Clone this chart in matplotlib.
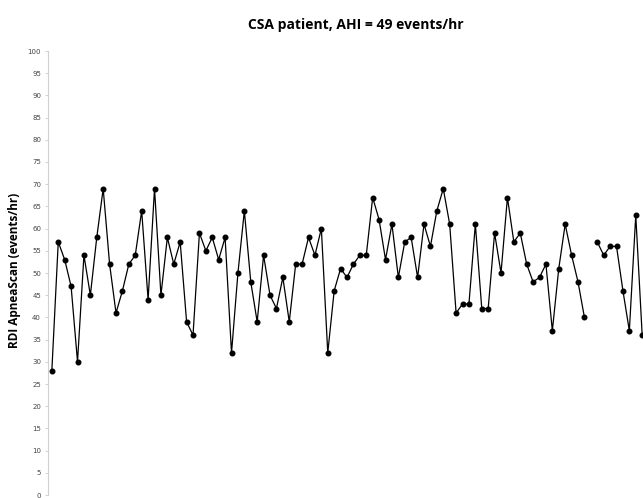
import numpy as np
import matplotlib.pyplot as plt

############################################
### RDI ApneaScan, CSA patient ###
############################################

# nightly RDI values, None = missing night
rdi = [28, 57, 53, 47, 30, 54, 45, 58, 69, 52,
       41, 46, 52, 54, 64, 44, 69, 45, 58, 52,
       57, 39, 36, 59, 55, 58, 53, 58, 32, 50,
       64, 48, 39, 54, 45, 42, 49, 39, 52, 52,
       58, 54, 60, 32, 46, 51, 49, 52, 54, 54,
       67, 62, 53, 61, 49, 57, 58, 49, 61, 56,
       64, 69, 61, 41, 43, 43, 61, 42, 42, 59,
       50, 67, 57, 59, 52, 48, 49, 52, 37, 51,
       61, 54, 48, 40, None, 57, 54, 56, 56, 46,
       37, 63, 36]
yticks = list(range(0, 101, 5))
title = 'CSA patient, AHI = 49 events/hr'
ylabel = 'RDI ApneaScan (events/hr)'

y = np.array([np.nan if v is None else v for v in rdi], dtype=float)
x = np.arange(len(y))

W, H = 643, 498
fig = plt.figure(figsize=(W / 100, H / 100), dpi=100)
# chart is cropped on the right and bottom in the original
ax = fig.add_axes([48 / W, (H - 495) / H, (W - 48) / W, 444 / H])

ax.plot(x, y, '-', color='black', lw=0.9)
ax.plot(x, y, 'o', color='black', ms=3.3)

ax.set_ylim(0, 100)
ax.set_xlim(-0.6, (W - 52) / 6.415)
ax.set_yticks(yticks)
ax.set_yticklabels([str(t) for t in yticks], fontsize=5, color='#444444')
ax.tick_params(axis='y', length=2, width=0.6, color='#cccccc', pad=3)
ax.set_xticks([])
for s in ['top', 'right', 'bottom']:
    ax.spines[s].set_visible(False)
ax.spines['left'].set_color('#d0d0d0')
ax.spines['left'].set_linewidth(0.8)

fig.text(356 / W, 1 - 25 / H, title, ha='center', va='center',
         fontsize=10, fontweight='bold', family='Open Sans')
fig.text(15 / W, 1 - 270 / H, ylabel, ha='center', va='center', rotation=90,
         fontsize=8.5, fontweight='bold', family='Open Sans')

plt.savefig('out.png')
plt.close()
